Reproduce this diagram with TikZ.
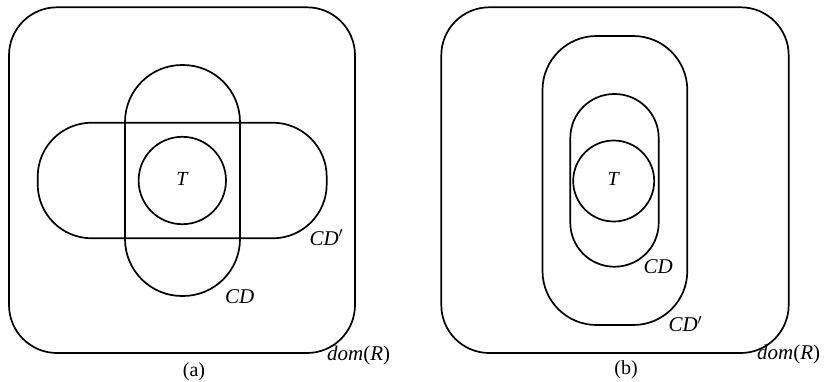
\documentclass[tikz,border=0pt]{standalone}
\usepackage{fontspec}
\setmainfont{Liberation Serif}
\begin{document}
\begin{tikzpicture}[x=1pt,y=-1pt,
  shape line/.style={line width=1.7pt},
  lbl/.style={anchor=base west,inner sep=0pt,font=\fontsize{21}{24}\selectfont},
  captext/.style={anchor=base,inner sep=0pt,font=\fontsize{20}{24}\selectfont}]
\useasboundingbox (0,0) rectangle (825,381);
% panel (a)
\draw[shape line,rounded corners=48pt] (9,7.3) rectangle (355,353);
\draw[shape line,rounded corners=57pt] (125,65) rectangle (240,296);
\draw[shape line,rounded corners=54pt] (37.7,122.7) rectangle (326.7,238.3);
\draw[shape line] (182.3,180.5) circle[radius=43.7pt];
\node[font=\fontsize{20}{24}\selectfont,inner sep=0pt] (Ta) at (182.5,178.5) {\textit{T}};
\node[lbl] (cdpa) at (309.3,245) {\textit{CD}$'$};
\node[lbl] (cda) at (225,303.3) {\textit{CD}};
\node[lbl] (doma) at (327,360.5) {\textit{dom}(\textit{R})};
\node[captext] (capa) at (194,376) {(a)};
% panel (b)
\draw[shape line,rounded corners=48pt] (441.3,7.3) rectangle (788.7,353);
\draw[shape line,rounded corners=54pt] (542.5,36) rectangle (687.3,325);
\draw[shape line,rounded corners=44pt] (570.3,94) rectangle (658.7,266.7);
\draw[shape line] (613.7,181) circle[radius=40.5pt];
\node[font=\fontsize{20}{24}\selectfont,inner sep=0pt] (Tb) at (613.7,179) {\textit{T}};
\node[lbl] (cdb) at (643.3,273.3) {\textit{CD}};
\node[lbl] (cdpb) at (668.3,331.7) {\textit{CD}$'$};
\node[lbl] (domb) at (757,359.5) {\textit{dom}(\textit{R})};
\node[captext] (capb) at (626,374) {(b)};
\end{tikzpicture}
\end{document}
